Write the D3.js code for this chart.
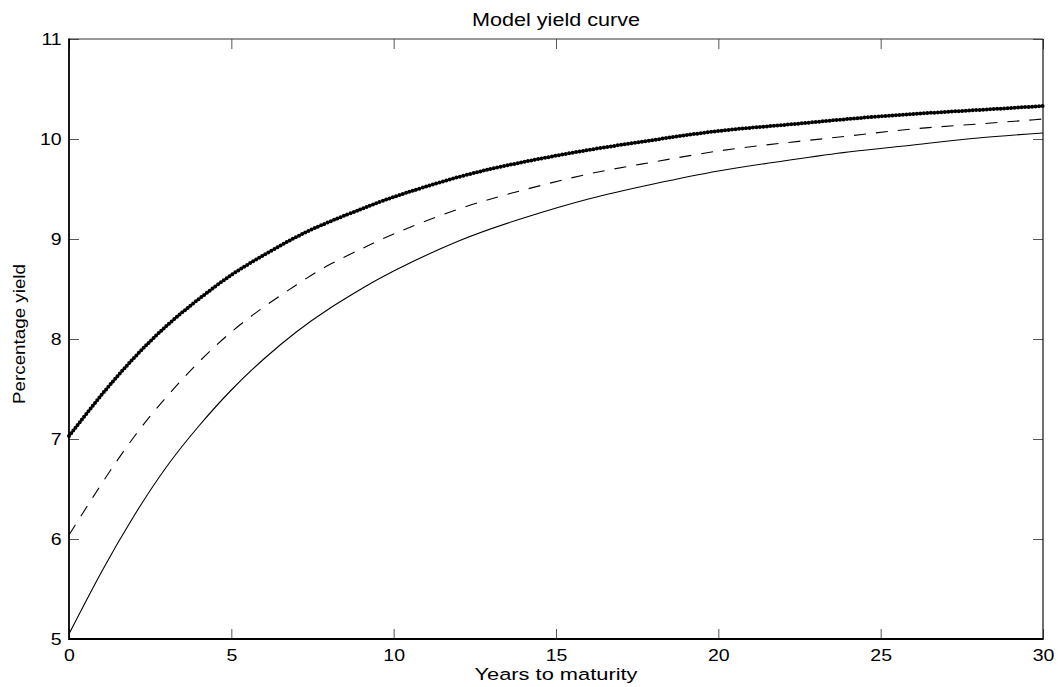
<!DOCTYPE html>
<html>
<head>
<meta charset="utf-8">
<script src="https://cdn.jsdelivr.net/npm/d3@7"></script>
<style>
  html, body { margin: 0; padding: 0; background: #fff; }
  svg { display: block; font-family: "Liberation Sans", Arial, Helvetica, sans-serif; }
</style>
</head>
<body>
<svg id="chart" width="1059" height="687"></svg>
<script>
// ---- data ----
const years = [0, 1, 2, 3, 4, 5, 6, 7, 8, 9, 10, 12, 14, 16, 18, 20, 22, 24, 26, 28, 30];
const solidCurve  = [5.05, 5.67, 6.23, 6.72, 7.13, 7.49, 7.80, 8.07, 8.30, 8.50, 8.68, 8.98, 9.21, 9.40, 9.55, 9.68, 9.78, 9.87, 9.94, 10.01, 10.06];
const dashedCurve = [6.04, 6.55, 7.02, 7.42, 7.77, 8.07, 8.32, 8.54, 8.74, 8.90, 9.05, 9.30, 9.49, 9.65, 9.77, 9.88, 9.96, 10.03, 10.10, 10.15, 10.20];
const dottedCurve = [7.03, 7.44, 7.81, 8.13, 8.40, 8.64, 8.84, 9.02, 9.17, 9.30, 9.42, 9.62, 9.77, 9.89, 9.99, 10.08, 10.14, 10.20, 10.25, 10.29, 10.33];
const xTicks = [0, 5, 10, 15, 20, 25, 30];
const yTicks = [5, 6, 7, 8, 9, 10, 11];
const titleText = "Model yield curve";
const xLabelText = "Years to maturity";
const yLabelText = "Percentage yield";

(function () {
  // ---- layout ----
  const svg = d3.select("#chart");
  const pL = 69, pR = 1043, pT = 39, pB = 639;
  const x = d3.scaleLinear().domain([0, 30]).range([pL, pR]);
  const y = d3.scaleLinear().domain([5, 11]).range([pB, pT]);
  const stretch = 1.22;

  svg.append("rect").attr("width", 1059).attr("height", 687).attr("fill", "#fff");

  // ---- curves ----
  const line = d3.line().x(d => x(d[0])).y(d => y(d[1])).curve(d3.curveNatural);
  const g = svg.append("g");
  g.append("path").datum(years.map((t, i) => [t, solidCurve[i]]))
    .attr("d", line).attr("fill", "none").attr("stroke", "#000").attr("stroke-width", 1.1);
  g.append("path").datum(years.map((t, i) => [t, dashedCurve[i]]))
    .attr("d", line).attr("fill", "none").attr("stroke", "#000").attr("stroke-width", 1.1)
    .attr("stroke-dasharray", "12,10");
  g.append("path").datum(years.map((t, i) => [t, dottedCurve[i]]))
    .attr("d", line).attr("fill", "none").attr("stroke", "#000").attr("stroke-width", 4)
    .attr("stroke-linecap", "round").attr("stroke-dasharray", "0,3.5");

  // ---- axes (ticks inside on all sides) ----
  const axB = svg.append("g").attr("transform", `translate(0,${pB})`)
    .call(d3.axisBottom(x).tickValues(xTicks).tickSizeInner(-10).tickSizeOuter(0).tickFormat(d3.format("d")));
  const axL = svg.append("g").attr("transform", `translate(${pL},0)`)
    .call(d3.axisLeft(y).tickValues(yTicks).tickSizeInner(-10).tickSizeOuter(0).tickFormat(d3.format("d")));
  const axT = svg.append("g").attr("transform", `translate(0,${pT})`)
    .call(d3.axisTop(x).tickValues(xTicks).tickSizeInner(-10).tickSizeOuter(0).tickFormat(""));
  const axR = svg.append("g").attr("transform", `translate(${pR},0)`)
    .call(d3.axisRight(y).tickValues(yTicks).tickSizeInner(-10).tickSizeOuter(0).tickFormat(""));

  [axB, axL, axT, axR].forEach(a => {
    a.select(".domain").remove();
    a.selectAll(".tick line").attr("stroke", "#555").attr("stroke-width", 1);
  });
  axB.selectAll(".tick text")
    .attr("y", 21.7).attr("dy", null)
    .attr("font-size", 16).attr("fill", "#000")
    .attr("font-family", "'Liberation Sans', Arial, sans-serif")
    .attr("transform", `scale(${stretch},1)`);
  axL.selectAll(".tick text")
    .attr("x", -7.3 / stretch).attr("dy", "0.36em")
    .attr("font-size", 16).attr("fill", "#000")
    .attr("font-family", "'Liberation Sans', Arial, sans-serif")
    .attr("transform", `scale(${stretch},1)`);

  // ---- frame ----
  svg.append("line").attr("x1", pL).attr("x2", pR).attr("y1", pT).attr("y2", pT)
    .attr("stroke", "#333").attr("stroke-width", 1.2);
  svg.append("line").attr("x1", pR).attr("x2", pR).attr("y1", pT).attr("y2", pB)
    .attr("stroke", "#111").attr("stroke-width", 1.2);
  svg.append("line").attr("x1", pL).attr("x2", pR + 0.6).attr("y1", pB).attr("y2", pB)
    .attr("stroke", "#000").attr("stroke-width", 1.8);
  svg.append("line").attr("x1", pL).attr("x2", pL).attr("y1", pT - 0.6).attr("y2", pB + 0.9)
    .attr("stroke", "#000").attr("stroke-width", 1.8);

  // ---- titles ----
  svg.append("text").attr("x", (pL + pR) / 2).attr("y", 26)
    .attr("text-anchor", "middle").attr("font-size", 17.5)
    .attr("textLength", 168).attr("lengthAdjust", "spacingAndGlyphs")
    .text(titleText);
  svg.append("text").attr("x", (pL + pR) / 2).attr("y", 680)
    .attr("text-anchor", "middle").attr("font-size", 16.3)
    .attr("textLength", 163).attr("lengthAdjust", "spacingAndGlyphs")
    .text(xLabelText);
  svg.append("text").attr("transform", "translate(25,334) rotate(-90)")
    .attr("text-anchor", "middle").attr("font-size", 17)
    .attr("textLength", 140).attr("lengthAdjust", "spacingAndGlyphs")
    .text(yLabelText);
})();
</script>
</body>
</html>
